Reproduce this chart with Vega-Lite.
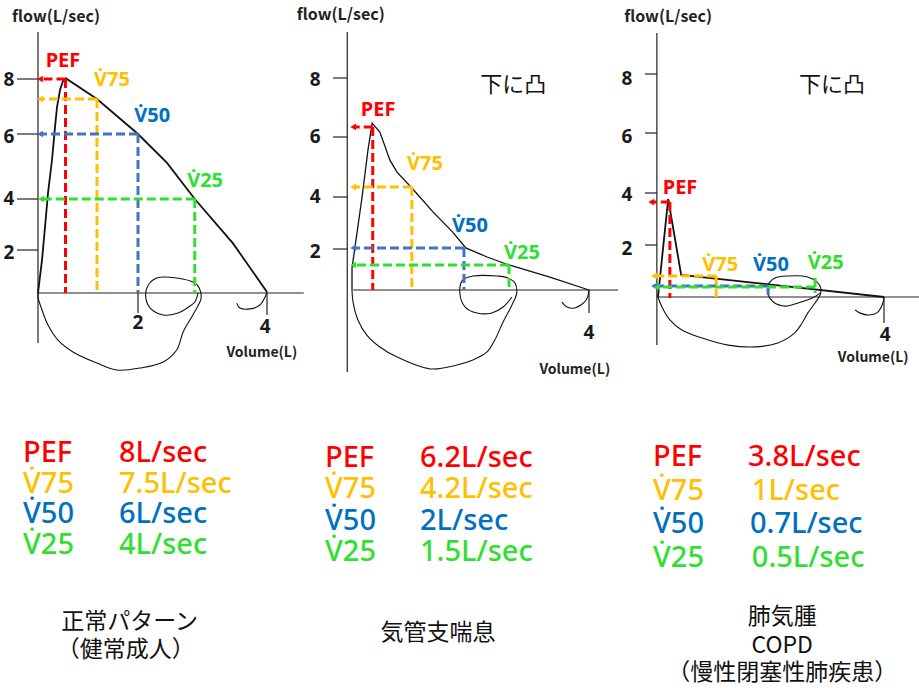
{
"$schema": "https://vega.github.io/schema/vega-lite/v6.json",
"padding": 0,
"background": "white",
"spacing": 0,
"config": {"view": {"stroke": null}, "text": {"font": "Noto Sans CJK JP"}},
"datasets": {
"curve": [
{"p":1,"part":"exp","i":0,"x":0,"y":0},{"p":1,"part":"exp","i":1,"x":0.08,"y":1.53},{"p":1,"part":"exp","i":2,"x":0.14,"y":2.9},{"p":1,"part":"exp","i":3,"x":0.2,"y":4.18},{"p":1,"part":"exp","i":4,"x":0.28,"y":5.2},{"p":1,"part":"exp","i":5,"x":0.34,"y":6.25},{"p":1,"part":"exp","i":6,"x":0.38,"y":6.98},{"p":1,"part":"exp","i":7,"x":0.44,"y":7.6},{"p":1,"part":"exp","i":8,"x":0.5,"y":7.93},{"p":1,"part":"exp","i":9,"x":0.56,"y":8.02},{"p":1,"part":"exp","i":10,"x":1.18,"y":7.27},{"p":1,"part":"exp","i":11,"x":2.0,"y":6.0},{"p":1,"part":"exp","i":12,"x":2.45,"y":5.11},{"p":1,"part":"exp","i":13,"x":2.88,"y":4.0},{"p":1,"part":"exp","i":14,"x":3.47,"y":2.27},{"p":1,"part":"exp","i":15,"x":4.0,"y":0.05},
{"p":1,"part":"hook","i":0,"x":4.0,"y":0.05},{"p":1,"part":"hook","i":1,"x":3.97,"y":-0.19},{"p":1,"part":"hook","i":2,"x":3.89,"y":-0.56},{"p":1,"part":"hook","i":3,"x":3.74,"y":-0.74},{"p":1,"part":"hook","i":4,"x":3.58,"y":-0.7},{"p":1,"part":"hook","i":5,"x":3.53,"y":-0.47},
{"p":1,"part":"insp","i":0,"x":0,"y":0},{"p":1,"part":"insp","i":1,"x":0,"y":-0.19},{"p":1,"part":"insp","i":2,"x":0.08,"y":-0.79},{"p":1,"part":"insp","i":3,"x":0.2,"y":-1.49},{"p":1,"part":"insp","i":4,"x":0.4,"y":-2.19},{"p":1,"part":"insp","i":5,"x":0.7,"y":-2.74},{"p":1,"part":"insp","i":6,"x":1.18,"y":-3.26},{"p":1,"part":"insp","i":7,"x":1.58,"y":-3.58},{"p":1,"part":"insp","i":8,"x":2.03,"y":-3.49},{"p":1,"part":"insp","i":9,"x":2.39,"y":-3.21},{"p":1,"part":"insp","i":10,"x":2.6,"y":-2.65},{"p":1,"part":"insp","i":11,"x":2.7,"y":-1.81},{"p":1,"part":"insp","i":12,"x":2.85,"y":-1.02},{"p":1,"part":"insp","i":13,"x":2.98,"y":-0.23},{"p":1,"part":"insp","i":14,"x":2.95,"y":0.23},{"p":1,"part":"insp","i":15,"x":2.88,"y":0.47},{"p":1,"part":"insp","i":16,"x":2.6,"y":0.7},{"p":1,"part":"insp","i":17,"x":2.29,"y":0.7},{"p":1,"part":"insp","i":18,"x":2.16,"y":0.37},{"p":1,"part":"insp","i":19,"x":2.12,"y":-0.19},{"p":1,"part":"insp","i":20,"x":2.19,"y":-0.7},{"p":1,"part":"insp","i":21,"x":2.39,"y":-1.02},{"p":1,"part":"insp","i":22,"x":2.62,"y":-0.93},{"p":1,"part":"insp","i":23,"x":2.76,"y":-0.7},{"p":1,"part":"insp","i":24,"x":2.88,"y":-0.42},{"p":1,"part":"insp","i":25,"x":2.93,"y":0},
{"p":2,"part":"exp","i":0,"x":0,"y":0},{"p":2,"part":"exp","i":1,"x":0,"y":1.07},{"p":2,"part":"exp","i":2,"x":0.17,"y":4.0},{"p":2,"part":"exp","i":3,"x":0.27,"y":5.57},{"p":2,"part":"exp","i":4,"x":0.34,"y":6.47},{"p":2,"part":"exp","i":5,"x":0.47,"y":6.17},{"p":2,"part":"exp","i":6,"x":0.56,"y":5.67},{"p":2,"part":"exp","i":7,"x":0.64,"y":5.23},{"p":2,"part":"exp","i":8,"x":0.76,"y":4.83},{"p":2,"part":"exp","i":9,"x":1.01,"y":4.3},{"p":2,"part":"exp","i":10,"x":1.37,"y":3.42},{"p":2,"part":"exp","i":11,"x":1.7,"y":2.65},{"p":2,"part":"exp","i":12,"x":1.92,"y":2.04},{"p":2,"part":"exp","i":13,"x":2.28,"y":1.61},{"p":2,"part":"exp","i":14,"x":2.65,"y":1.22},{"p":2,"part":"exp","i":15,"x":3.34,"y":0.63},{"p":2,"part":"exp","i":16,"x":4.0,"y":0},
{"p":2,"part":"hook","i":0,"x":4.0,"y":0},{"p":2,"part":"hook","i":1,"x":3.95,"y":-0.5},{"p":2,"part":"hook","i":2,"x":3.76,"y":-0.88},{"p":2,"part":"hook","i":3,"x":3.63,"y":-0.83},{"p":2,"part":"hook","i":4,"x":3.54,"y":-0.59},
{"p":2,"part":"insp","i":0,"x":0,"y":0},{"p":2,"part":"insp","i":1,"x":0.02,"y":-0.63},{"p":2,"part":"insp","i":2,"x":0.1,"y":-1.46},{"p":2,"part":"insp","i":3,"x":0.25,"y":-2.2},{"p":2,"part":"insp","i":4,"x":0.47,"y":-2.78},{"p":2,"part":"insp","i":5,"x":0.76,"y":-3.27},{"p":2,"part":"insp","i":6,"x":1.32,"y":-3.85},{"p":2,"part":"insp","i":7,"x":1.77,"y":-3.66},{"p":2,"part":"insp","i":8,"x":2.04,"y":-3.41},{"p":2,"part":"insp","i":9,"x":2.28,"y":-3.02},{"p":2,"part":"insp","i":10,"x":2.41,"y":-2.44},{"p":2,"part":"insp","i":11,"x":2.55,"y":-1.56},{"p":2,"part":"insp","i":12,"x":2.7,"y":-0.73},{"p":2,"part":"insp","i":13,"x":2.78,"y":-0.15},{"p":2,"part":"insp","i":14,"x":2.75,"y":0.34},{"p":2,"part":"insp","i":15,"x":2.63,"y":0.59},{"p":2,"part":"insp","i":16,"x":2.45,"y":0.68},{"p":2,"part":"insp","i":17,"x":2.04,"y":0.68},{"p":2,"part":"insp","i":18,"x":1.87,"y":0.49},{"p":2,"part":"insp","i":19,"x":1.82,"y":-0.15},{"p":2,"part":"insp","i":20,"x":1.91,"y":-0.83},{"p":2,"part":"insp","i":21,"x":2.11,"y":-1.12},{"p":2,"part":"insp","i":22,"x":2.36,"y":-1.12},{"p":2,"part":"insp","i":23,"x":2.55,"y":-0.83},{"p":2,"part":"insp","i":24,"x":2.7,"y":-0.34},
{"p":3,"part":"exp","i":0,"x":0,"y":0},{"p":3,"part":"exp","i":1,"x":0.18,"y":3.77},{"p":3,"part":"exp","i":2,"x":0.41,"y":0.85},{"p":3,"part":"exp","i":3,"x":4.0,"y":0},
{"p":3,"part":"hook","i":0,"x":4.0,"y":0},{"p":3,"part":"hook","i":1,"x":3.98,"y":-0.23},{"p":3,"part":"hook","i":2,"x":3.89,"y":-0.58},{"p":3,"part":"hook","i":3,"x":3.72,"y":-0.69},{"p":3,"part":"hook","i":4,"x":3.58,"y":-0.62},{"p":3,"part":"hook","i":5,"x":3.49,"y":-0.5},
{"p":3,"part":"insp","i":0,"x":0,"y":0},{"p":3,"part":"insp","i":1,"x":0.07,"y":-0.38},{"p":3,"part":"insp","i":2,"x":0.21,"y":-0.88},{"p":3,"part":"insp","i":3,"x":0.42,"y":-1.27},{"p":3,"part":"insp","i":4,"x":0.78,"y":-1.58},{"p":3,"part":"insp","i":5,"x":1.24,"y":-1.85},{"p":3,"part":"insp","i":6,"x":1.72,"y":-1.92},{"p":3,"part":"insp","i":7,"x":2.12,"y":-1.77},{"p":3,"part":"insp","i":8,"x":2.42,"y":-1.38},{"p":3,"part":"insp","i":9,"x":2.55,"y":-1.0},{"p":3,"part":"insp","i":10,"x":2.65,"y":-0.62},{"p":3,"part":"insp","i":11,"x":2.78,"y":-0.23},{"p":3,"part":"insp","i":12,"x":2.87,"y":0.08},{"p":3,"part":"insp","i":13,"x":2.88,"y":0.35},{"p":3,"part":"insp","i":14,"x":2.81,"y":0.58},{"p":3,"part":"insp","i":15,"x":2.65,"y":0.77},{"p":3,"part":"insp","i":16,"x":2.3,"y":0.81},{"p":3,"part":"insp","i":17,"x":2.07,"y":0.73},{"p":3,"part":"insp","i":18,"x":1.95,"y":0.46},{"p":3,"part":"insp","i":19,"x":1.95,"y":0.08},{"p":3,"part":"insp","i":20,"x":2.04,"y":-0.19},{"p":3,"part":"insp","i":21,"x":2.25,"y":-0.35},{"p":3,"part":"insp","i":22,"x":2.48,"y":-0.23},{"p":3,"part":"insp","i":23,"x":2.73,"y":-0.04},{"p":3,"part":"insp","i":24,"x":2.87,"y":0.15}
],
"axis": [
{"p":1,"x":0,"y":9.71,"x2":0,"y2":-2.33},{"p":1,"x":0,"y":0,"x2":4.57,"y2":0},
{"p":1,"x":-0.42,"y":8,"x2":0,"y2":8},{"p":1,"x":-0.42,"y":6,"x2":0,"y2":6},{"p":1,"x":-0.42,"y":4,"x2":0,"y2":4},{"p":1,"x":-0.42,"y":2,"x2":0,"y2":2},
{"p":1,"x":2,"y":0,"x2":2,"y2":-0.93},{"p":1,"x":4,"y":0,"x2":4,"y2":-1.02},
{"p":2,"x":-0.08,"y":9.56,"x2":-0.08,"y2":-4.0},{"p":2,"x":0.02,"y":0,"x2":4.49,"y2":0},
{"p":2,"x":-0.32,"y":8,"x2":-0.08,"y2":8},{"p":2,"x":-0.32,"y":6,"x2":-0.08,"y2":6},{"p":2,"x":-0.32,"y":4,"x2":-0.08,"y2":4},{"p":2,"x":-0.32,"y":2,"x2":-0.08,"y2":2},
{"p":2,"x":4,"y":0,"x2":4,"y2":-1.12},
{"p":3,"x":-0.02,"y":9.39,"x2":-0.02,"y2":-1.85},{"p":3,"x":-0.02,"y":0,"x2":4.62,"y2":0},
{"p":3,"x":-0.23,"y":8,"x2":-0.02,"y2":8},{"p":3,"x":-0.23,"y":6,"x2":-0.02,"y2":6},{"p":3,"x":-0.23,"y":4,"x2":-0.02,"y2":4},{"p":3,"x":-0.23,"y":2,"x2":-0.02,"y2":2},
{"p":3,"x":4,"y":0,"x2":4,"y2":-1.0}
],
"dash": [
{"p":1,"s":"PEF","x":0.55,"y":8,"x2":0.04,"y2":8},{"p":1,"s":"PEF","x":0.55,"y":8,"x2":0.55,"y2":0},
{"p":1,"s":"V75","x":1.18,"y":7.27,"x2":0.04,"y2":7.27},{"p":1,"s":"V75","x":1.18,"y":7.27,"x2":1.18,"y2":0},
{"p":1,"s":"V50","x":2.0,"y":6,"x2":0.04,"y2":6},{"p":1,"s":"V50","x":2.0,"y":6,"x2":2.0,"y2":0},
{"p":1,"s":"V25","x":2.88,"y":4,"x2":0.06,"y2":4},{"p":1,"s":"V25","x":2.88,"y":4,"x2":2.88,"y2":0},
{"p":2,"s":"PEF","x":0.35,"y":6.34,"x2":0.02,"y2":6.34},{"p":2,"s":"PEF","x":0.35,"y":6.34,"x2":0.35,"y2":0},
{"p":2,"s":"V75","x":1.01,"y":4.33,"x2":0.02,"y2":4.33},{"p":2,"s":"V75","x":1.01,"y":4.33,"x2":1.01,"y2":0},
{"p":2,"s":"V50","x":1.89,"y":2.04,"x2":0.02,"y2":2.04},{"p":2,"s":"V50","x":1.89,"y":2.04,"x2":1.89,"y2":0},
{"p":2,"s":"V25","x":2.65,"y":1.22,"x2":0.02,"y2":1.22},{"p":2,"s":"V25","x":2.65,"y":1.22,"x2":2.65,"y2":0},
{"p":3,"s":"PEF","x":0.21,"y":3.65,"x2":-0.12,"y2":3.65},{"p":3,"s":"PEF","x":0.21,"y":3.65,"x2":0.21,"y2":-0.04},
{"p":3,"s":"V75","x":1.03,"y":0.81,"x2":-0.07,"y2":0.81},{"p":3,"s":"V75","x":1.03,"y":0.81,"x2":1.03,"y2":0},
{"p":3,"s":"V50","x":1.95,"y":0.42,"x2":-0.07,"y2":0.42},{"p":3,"s":"V50","x":1.95,"y":0.42,"x2":1.95,"y2":0},
{"p":3,"s":"V25","x":2.78,"y":0.38,"x2":-0.02,"y2":0.38},{"p":3,"s":"V25","x":2.78,"y":0.73,"x2":2.78,"y2":0.15}
],
"arrow": [
{"p":1,"s":"PEF","x":0.04,"y":8},{"p":1,"s":"V75","x":0.04,"y":7.27},{"p":1,"s":"V50","x":0.04,"y":6},{"p":1,"s":"V25","x":0.06,"y":4},
{"p":2,"s":"PEF","x":0.02,"y":6.34},{"p":2,"s":"V75","x":0.02,"y":4.33},{"p":2,"s":"V50","x":0.02,"y":2.04},{"p":2,"s":"V25","x":0.02,"y":1.22},
{"p":3,"s":"PEF","x":-0.12,"y":3.65},{"p":3,"s":"V75","x":-0.07,"y":0.81},{"p":3,"s":"V50","x":-0.07,"y":0.42},{"p":3,"s":"V25","x":-0.02,"y":0.38}
],
"tick": [
{"p":1,"t":"8","x":-0.58,"y":7.96},{"p":1,"t":"6","x":-0.58,"y":5.9},{"p":1,"t":"4","x":-0.58,"y":4},{"p":1,"t":"2","x":-0.58,"y":1.86},{"p":1,"t":"2","x":2,"y":-1.4},{"p":1,"t":"4","x":3.97,"y":-1.58},
{"p":2,"t":"8","x":-0.62,"y":7.93},{"p":2,"t":"6","x":-0.62,"y":6},{"p":2,"t":"4","x":-0.62,"y":4},{"p":2,"t":"2","x":-0.62,"y":1.85},{"p":2,"t":"4","x":4,"y":-2.1},
{"p":3,"t":"8","x":-0.55,"y":7.83},{"p":3,"t":"6","x":-0.55,"y":5.87},{"p":3,"t":"4","x":-0.55,"y":3.92},{"p":3,"t":"2","x":-0.55,"y":1.85},{"p":3,"t":"4","x":4.02,"y":-1.46}
],
"title": [
{"p":1,"t":"flow(L/sec)","x":0.36,"y":10.25,"k":"flow"},{"p":1,"t":"Volume(L)","x":3.92,"y":-2.79,"k":"vol"},
{"p":2,"t":"flow(L/sec)","x":-0.19,"y":10.14,"k":"flow"},{"p":2,"t":"Volume(L)","x":3.76,"y":-3.9,"k":"vol"},
{"p":3,"t":"flow(L/sec)","x":0.18,"y":9.93,"k":"flow"},{"p":3,"t":"Volume(L)","x":3.81,"y":-2.35,"k":"vol"}
],
"note": [
{"p":2,"t":"下に凸","x":2.72,"y":7.76},{"p":3,"t":"下に凸","x":3.08,"y":7.63}
],
"lab": [
{"p":1,"s":"PEF","t":"PEF","x":0.5,"y":8.64},{"p":1,"s":"V75","t":"V\u030775","x":1.48,"y":7.96},{"p":1,"s":"V50","t":"V\u030750","x":2.22,"y":6.65},{"p":1,"s":"V25","t":"V\u030725","x":3.04,"y":4.55},
{"p":2,"s":"PEF","t":"PEF","x":0.44,"y":6.92},{"p":2,"s":"V75","t":"V\u030775","x":1.23,"y":5.1},{"p":2,"s":"V50","t":"V\u030750","x":1.99,"y":2.88},{"p":2,"s":"V25","t":"V\u030725","x":2.87,"y":1.8},
{"p":3,"s":"PEF","t":"PEF","x":0.39,"y":4.17},{"p":3,"s":"V75","t":"V\u030775","x":1.1,"y":1.23},{"p":3,"s":"V50","t":"V\u030750","x":2.0,"y":1.23},{"p":3,"s":"V25","t":"V\u030725","x":2.97,"y":1.31}
],
"tbl": [
{"p":1,"s":"PEF","col":0,"row":1,"t":"PEF"},{"p":1,"s":"PEF","col":1,"row":1,"t":"8L/sec"},
{"p":1,"s":"V75","col":0,"row":2,"t":"V\u030775"},{"p":1,"s":"V75","col":1,"row":2,"t":"7.5L/sec"},
{"p":1,"s":"V50","col":0,"row":3,"t":"V\u030750"},{"p":1,"s":"V50","col":1,"row":3,"t":"6L/sec"},
{"p":1,"s":"V25","col":0,"row":4,"t":"V\u030725"},{"p":1,"s":"V25","col":1,"row":4,"t":"4L/sec"},
{"p":2,"s":"PEF","col":0,"row":1,"t":"PEF"},{"p":2,"s":"PEF","col":1,"row":1,"t":"6.2L/sec"},
{"p":2,"s":"V75","col":0,"row":2,"t":"V\u030775"},{"p":2,"s":"V75","col":1,"row":2,"t":"4.2L/sec"},
{"p":2,"s":"V50","col":0,"row":3,"t":"V\u030750"},{"p":2,"s":"V50","col":1,"row":3,"t":"2L/sec"},
{"p":2,"s":"V25","col":0,"row":4,"t":"V\u030725"},{"p":2,"s":"V25","col":1,"row":4,"t":"1.5L/sec"},
{"p":3,"s":"PEF","col":0,"row":1,"t":"PEF"},{"p":3,"s":"PEF","col":1,"row":1,"t":"3.8L/sec"},
{"p":3,"s":"V75","col":0,"row":2,"t":"V\u030775"},{"p":3,"s":"V75","col":1.04,"row":2,"t":"1L/sec"},
{"p":3,"s":"V50","col":0,"row":3,"t":"V\u030750"},{"p":3,"s":"V50","col":1.02,"row":3,"t":"0.7L/sec"},
{"p":3,"s":"V25","col":0,"row":4,"t":"V\u030725"},{"p":3,"s":"V25","col":1.04,"row":4,"t":"0.5L/sec"}
],
"cap": [
{"p":1,"col":1.11,"row":6.51,"t":"正常パターン"},{"p":1,"col":1.07,"row":7.42,"t":"（健常成人）"},
{"p":2,"col":1.19,"row":6.59,"t":"気管支喘息"},
{"p":3,"col":1.36,"row":5.75,"t":"肺気腫"},{"p":3,"col":1.36,"row":6.61,"t":"COPD"},{"p":3,"col":1.36,"row":7.42,"t":"（慢性閉塞性肺疾患）"}
]
},
"vconcat": [
{"hconcat": [
{"width": 300, "height": 400,
 "encoding": {
  "x": {"field": "x", "type": "quantitative", "axis": null, "scale": {"domain": [0, 2, 4], "range": [38, 138, 267], "nice": false, "zero": false}},
  "y": {"field": "y", "type": "quantitative", "axis": null, "scale": {"domain": [0, 2, 4, 6, 8], "range": [293, 250, 199, 134, 79], "nice": false, "zero": false}}
 },
 "layer": [
  {"data": {"name": "axis"}, "transform": [{"filter": "datum.p == 1"}], "mark": {"type": "rule", "color": "#222222", "strokeWidth": 1.2}, "encoding": {"x2": {"field": "x2"}, "y2": {"field": "y2"}}},
  {"data": {"name": "curve"}, "transform": [{"filter": "datum.p == 1 && datum.part == 'exp'"}], "mark": {"type": "line", "color": "#111111", "strokeWidth": 1.8}, "encoding": {"order": {"field": "i", "type": "quantitative"}}},
  {"data": {"name": "curve"}, "transform": [{"filter": "datum.p == 1 && datum.part != 'exp'"}], "mark": {"type": "line", "color": "#111111", "strokeWidth": 1.1, "interpolate": "catmull-rom"}, "encoding": {"order": {"field": "i", "type": "quantitative"}, "detail": {"field": "part"}}},
  {"data": {"name": "dash"}, "transform": [{"filter": "datum.p == 1"}], "mark": {"type": "rule", "strokeDash": [9, 4], "strokeWidth": 3}, "encoding": {"x2": {"field": "x2"}, "y2": {"field": "y2"}, "color": {"field": "s", "type": "nominal", "legend": null, "scale": {"domain": ["PEF", "V75", "V50", "V25"], "range": ["#ff0000", "#ffc000", "#4472c4", "#2fe02f"]}}}},
  {"data": {"name": "arrow"}, "transform": [{"filter": "datum.p == 1"}], "mark": {"type": "point", "shape": "triangle-left", "filled": true, "size": 45, "opacity": 1}, "encoding": {"color": {"field": "s", "type": "nominal", "legend": null, "scale": {"domain": ["PEF", "V75", "V50", "V25"], "range": ["#ff0000", "#ffc000", "#4472c4", "#2fe02f"]}}}},
  {"data": {"name": "tick"}, "transform": [{"filter": "datum.p == 1"}], "mark": {"type": "text", "font": "Noto Sans", "fontSize": 19, "fontWeight": "bold", "color": "#1a1a1a", "align": "center", "baseline": "middle"}, "encoding": {"text": {"field": "t"}}},
  {"data": {"name": "title"}, "transform": [{"filter": "datum.p == 1 && datum.k == 'flow'"}], "mark": {"type": "text", "fontSize": 16, "fontWeight": "bold", "color": "#222222", "align": "center", "baseline": "middle"}, "encoding": {"text": {"field": "t"}}},
  {"data": {"name": "title"}, "transform": [{"filter": "datum.p == 1 && datum.k == 'vol'"}], "mark": {"type": "text", "fontSize": 14, "fontWeight": "bold", "color": "#222222", "align": "center", "baseline": "middle"}, "encoding": {"text": {"field": "t"}}},
  {"data": {"name": "lab"}, "transform": [{"filter": "datum.p == 1"}], "mark": {"type": "text", "font": "Noto Sans", "fontSize": 20, "fontWeight": "bold", "align": "center", "baseline": "middle"}, "encoding": {"text": {"field": "t"}, "color": {"field": "s", "type": "nominal", "legend": null, "scale": {"domain": ["PEF", "V75", "V50", "V25"], "range": ["#ff0000", "#ffc000", "#0070c0", "#2fe02f"]}}}}
 ],
 "resolve": {"scale": {"color": "independent"}}
},
{"width": 310, "height": 400,
 "encoding": {
  "x": {"field": "x", "type": "quantitative", "axis": null, "scale": {"domain": [0, 4], "range": [52, 289], "nice": false, "zero": false}},
  "y": {"field": "y", "type": "quantitative", "axis": null, "scale": {"domain": [0, 2, 4, 6, 8], "range": [290, 249, 197, 137, 78], "nice": false, "zero": false}}
 },
 "layer": [
  {"data": {"name": "axis"}, "transform": [{"filter": "datum.p == 2"}], "mark": {"type": "rule", "color": "#222222", "strokeWidth": 1.2}, "encoding": {"x2": {"field": "x2"}, "y2": {"field": "y2"}}},
  {"data": {"name": "curve"}, "transform": [{"filter": "datum.p == 2 && datum.part == 'exp'"}], "mark": {"type": "line", "color": "#111111", "strokeWidth": 1.3}, "encoding": {"order": {"field": "i", "type": "quantitative"}}},
  {"data": {"name": "curve"}, "transform": [{"filter": "datum.p == 2 && datum.part != 'exp'"}], "mark": {"type": "line", "color": "#111111", "strokeWidth": 1.1, "interpolate": "catmull-rom"}, "encoding": {"order": {"field": "i", "type": "quantitative"}, "detail": {"field": "part"}}},
  {"data": {"name": "dash"}, "transform": [{"filter": "datum.p == 2"}], "mark": {"type": "rule", "strokeDash": [9, 4], "strokeWidth": 3}, "encoding": {"x2": {"field": "x2"}, "y2": {"field": "y2"}, "color": {"field": "s", "type": "nominal", "legend": null, "scale": {"domain": ["PEF", "V75", "V50", "V25"], "range": ["#ff0000", "#ffc000", "#4472c4", "#2fe02f"]}}}},
  {"data": {"name": "arrow"}, "transform": [{"filter": "datum.p == 2"}], "mark": {"type": "point", "shape": "triangle-left", "filled": true, "size": 45, "opacity": 1}, "encoding": {"color": {"field": "s", "type": "nominal", "legend": null, "scale": {"domain": ["PEF", "V75", "V50", "V25"], "range": ["#ff0000", "#ffc000", "#4472c4", "#2fe02f"]}}}},
  {"data": {"name": "tick"}, "transform": [{"filter": "datum.p == 2"}], "mark": {"type": "text", "font": "Noto Sans", "fontSize": 19, "fontWeight": "bold", "color": "#1a1a1a", "align": "center", "baseline": "middle"}, "encoding": {"text": {"field": "t"}}},
  {"data": {"name": "title"}, "transform": [{"filter": "datum.p == 2 && datum.k == 'flow'"}], "mark": {"type": "text", "fontSize": 16, "fontWeight": "bold", "color": "#222222", "align": "center", "baseline": "middle"}, "encoding": {"text": {"field": "t"}}},
  {"data": {"name": "title"}, "transform": [{"filter": "datum.p == 2 && datum.k == 'vol'"}], "mark": {"type": "text", "fontSize": 14, "fontWeight": "bold", "color": "#222222", "align": "center", "baseline": "middle"}, "encoding": {"text": {"field": "t"}}},
  {"data": {"name": "note"}, "transform": [{"filter": "datum.p == 2"}], "mark": {"type": "text", "fontSize": 22, "color": "#111111", "align": "center", "baseline": "middle"}, "encoding": {"text": {"field": "t"}}},
  {"data": {"name": "lab"}, "transform": [{"filter": "datum.p == 2"}], "mark": {"type": "text", "font": "Noto Sans", "fontSize": 20, "fontWeight": "bold", "align": "center", "baseline": "middle"}, "encoding": {"text": {"field": "t"}, "color": {"field": "s", "type": "nominal", "legend": null, "scale": {"domain": ["PEF", "V75", "V50", "V25"], "range": ["#ff0000", "#ffc000", "#0070c0", "#2fe02f"]}}}}
 ],
 "resolve": {"scale": {"color": "independent"}}
},
{"width": 309, "height": 400,
 "encoding": {
  "x": {"field": "x", "type": "quantitative", "axis": null, "scale": {"domain": [0, 4], "range": [48, 274], "nice": false, "zero": false}},
  "y": {"field": "y", "type": "quantitative", "axis": null, "scale": {"domain": [0, 2, 4, 6, 8], "range": [297, 245, 193, 133, 74], "nice": false, "zero": false}}
 },
 "layer": [
  {"data": {"name": "axis"}, "transform": [{"filter": "datum.p == 3"}], "mark": {"type": "rule", "color": "#222222", "strokeWidth": 1.2}, "encoding": {"x2": {"field": "x2"}, "y2": {"field": "y2"}}},
  {"data": {"name": "curve"}, "transform": [{"filter": "datum.p == 3 && datum.part == 'exp'"}], "mark": {"type": "line", "color": "#111111", "strokeWidth": 1.8}, "encoding": {"order": {"field": "i", "type": "quantitative"}}},
  {"data": {"name": "curve"}, "transform": [{"filter": "datum.p == 3 && datum.part != 'exp'"}], "mark": {"type": "line", "color": "#111111", "strokeWidth": 1.1, "interpolate": "catmull-rom"}, "encoding": {"order": {"field": "i", "type": "quantitative"}, "detail": {"field": "part"}}},
  {"data": {"name": "dash"}, "transform": [{"filter": "datum.p == 3"}], "mark": {"type": "rule", "strokeDash": [9, 4], "strokeWidth": 3}, "encoding": {"x2": {"field": "x2"}, "y2": {"field": "y2"}, "color": {"field": "s", "type": "nominal", "legend": null, "scale": {"domain": ["PEF", "V75", "V50", "V25"], "range": ["#ff0000", "#ffc000", "#4472c4", "#2fe02f"]}}}},
  {"data": {"name": "arrow"}, "transform": [{"filter": "datum.p == 3"}], "mark": {"type": "point", "shape": "triangle-left", "filled": true, "size": 45, "opacity": 1}, "encoding": {"color": {"field": "s", "type": "nominal", "legend": null, "scale": {"domain": ["PEF", "V75", "V50", "V25"], "range": ["#ff0000", "#ffc000", "#4472c4", "#2fe02f"]}}}},
  {"data": {"name": "tick"}, "transform": [{"filter": "datum.p == 3"}], "mark": {"type": "text", "font": "Noto Sans", "fontSize": 19, "fontWeight": "bold", "color": "#1a1a1a", "align": "center", "baseline": "middle"}, "encoding": {"text": {"field": "t"}}},
  {"data": {"name": "title"}, "transform": [{"filter": "datum.p == 3 && datum.k == 'flow'"}], "mark": {"type": "text", "fontSize": 16, "fontWeight": "bold", "color": "#222222", "align": "center", "baseline": "middle"}, "encoding": {"text": {"field": "t"}}},
  {"data": {"name": "title"}, "transform": [{"filter": "datum.p == 3 && datum.k == 'vol'"}], "mark": {"type": "text", "fontSize": 14, "fontWeight": "bold", "color": "#222222", "align": "center", "baseline": "middle"}, "encoding": {"text": {"field": "t"}}},
  {"data": {"name": "note"}, "transform": [{"filter": "datum.p == 3"}], "mark": {"type": "text", "fontSize": 22, "color": "#111111", "align": "center", "baseline": "middle"}, "encoding": {"text": {"field": "t"}}},
  {"data": {"name": "lab"}, "transform": [{"filter": "datum.p == 3"}], "mark": {"type": "text", "font": "Noto Sans", "fontSize": 20, "fontWeight": "bold", "align": "center", "baseline": "middle"}, "encoding": {"text": {"field": "t"}, "color": {"field": "s", "type": "nominal", "legend": null, "scale": {"domain": ["PEF", "V75", "V50", "V25"], "range": ["#ff0000", "#ffc000", "#0070c0", "#2fe02f"]}}}}
 ],
 "resolve": {"scale": {"color": "independent"}}
}
], "spacing": 0, "bounds": "flush"},
{"hconcat": [
{"width": 300, "height": 288,
 "encoding": {
  "x": {"field": "col", "type": "quantitative", "axis": null, "scale": {"domain": [0, 1], "range": [23, 119], "nice": false, "zero": false}},
  "y": {"field": "row", "type": "quantitative", "axis": null, "scale": {"domain": [1, 4], "range": [53, 145], "nice": false, "zero": false}}
 },
 "layer": [
  {"data": {"name": "tbl"}, "transform": [{"filter": "datum.p == 1"}], "mark": {"type": "text", "font": "Noto Sans", "fontSize": 29, "fontWeight": 500, "align": "left", "baseline": "middle"}, "encoding": {"text": {"field": "t"}, "color": {"field": "s", "type": "nominal", "legend": null, "scale": {"domain": ["PEF", "V75", "V50", "V25"], "range": ["#ff0000", "#ffc000", "#0070c0", "#2fe02f"]}}}},
  {"data": {"name": "cap"}, "transform": [{"filter": "datum.p == 1"}], "mark": {"type": "text", "fontSize": 23, "color": "#111111", "align": "center", "baseline": "middle"}, "encoding": {"text": {"field": "t"}}}
 ]
},
{"width": 310, "height": 288,
 "encoding": {
  "x": {"field": "col", "type": "quantitative", "axis": null, "scale": {"domain": [0, 1], "range": [25, 120], "nice": false, "zero": false}},
  "y": {"field": "row", "type": "quantitative", "axis": null, "scale": {"domain": [1, 4], "range": [58, 152], "nice": false, "zero": false}}
 },
 "layer": [
  {"data": {"name": "tbl"}, "transform": [{"filter": "datum.p == 2"}], "mark": {"type": "text", "font": "Noto Sans", "fontSize": 29, "fontWeight": 500, "align": "left", "baseline": "middle"}, "encoding": {"text": {"field": "t"}, "color": {"field": "s", "type": "nominal", "legend": null, "scale": {"domain": ["PEF", "V75", "V50", "V25"], "range": ["#ff0000", "#ffc000", "#0070c0", "#2fe02f"]}}}},
  {"data": {"name": "cap"}, "transform": [{"filter": "datum.p == 2"}], "mark": {"type": "text", "fontSize": 23, "color": "#111111", "align": "center", "baseline": "middle"}, "encoding": {"text": {"field": "t"}}}
 ]
},
{"width": 309, "height": 288,
 "encoding": {
  "x": {"field": "col", "type": "quantitative", "axis": null, "scale": {"domain": [0, 1], "range": [43, 138], "nice": false, "zero": false}},
  "y": {"field": "row", "type": "quantitative", "axis": null, "scale": {"domain": [1, 4], "range": [57, 158], "nice": false, "zero": false}}
 },
 "layer": [
  {"data": {"name": "tbl"}, "transform": [{"filter": "datum.p == 3"}], "mark": {"type": "text", "font": "Noto Sans", "fontSize": 29, "fontWeight": 500, "align": "left", "baseline": "middle"}, "encoding": {"text": {"field": "t"}, "color": {"field": "s", "type": "nominal", "legend": null, "scale": {"domain": ["PEF", "V75", "V50", "V25"], "range": ["#ff0000", "#ffc000", "#0070c0", "#2fe02f"]}}}},
  {"data": {"name": "cap"}, "transform": [{"filter": "datum.p == 3"}], "mark": {"type": "text", "fontSize": 23, "color": "#111111", "align": "center", "baseline": "middle"}, "encoding": {"text": {"field": "t"}}}
 ]
}
], "spacing": 0, "bounds": "flush"}
]
}
